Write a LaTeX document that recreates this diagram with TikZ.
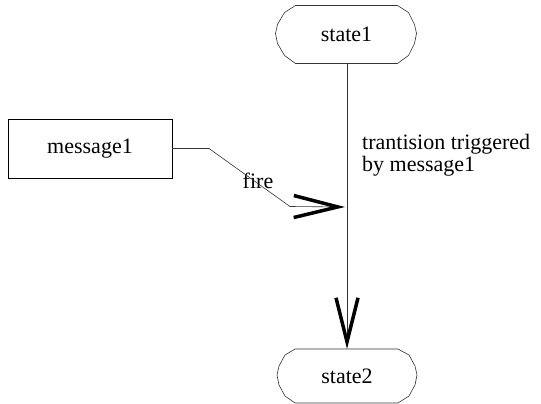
\documentclass[tikz,border=0pt]{standalone}
\usepackage{fontspec}
\newfontfamily\tmsfont{Liberation Serif}
\usepackage{tikz}
\usetikzlibrary{calc,arrows.meta}

\begin{document}
\begin{tikzpicture}[x=1pt,y=-1pt]
                      \tikzstyle{wire}=[draw=black!80,line width=0.6pt]
                      \tikzstyle{bigv}=[-{Straight Barb[length=44pt,width=22pt,line width=3.5pt,color=black]}]
                      \tikzstyle{txt}=[inner sep=0pt,font=\tmsfont\fontsize{22}{22}\selectfont]
                      \useasboundingbox (0,0) rectangle (541,404);
                      \node[txt] (s1) at (346.5,34.5) {state1};
                      \node[txt] (s2) at (347,376) {state2};
                      \node[txt,draw,inner sep=0pt,minimum width=164pt,minimum height=59pt] (m1) at (90,148.5) {message1};
                      \node[txt] (f) at (258,181) {fire};
                      \node[txt,anchor=north west,align=left] (l) at (362,134) {trantision triggered\\by message1};
                      % state outlines
                      \draw[wire] (s1.center) +(-51,-29) -- +(51,-29) -- +(62,-22) -- +(68,-10) -- +(70,-1) -- +(68,9) -- +(62,21) -- +(51,29) -- +(-51,29) -- +(-62,21) -- +(-69,9) -- +(-71,-1) -- +(-69,-10) -- +(-62,-22) -- cycle;
                      \draw[wire] (s2.center) +(-52,-27) -- +(51,-27) -- +(62,-21) -- +(68,-10) -- +(70,-1) -- +(68,9) -- +(62,20) -- +(51,27) -- +(-52,27) -- +(-62,20) -- +(-68,9) -- +(-70,-1) -- +(-68,-10) -- +(-62,-21) -- cycle;
                      \coordinate (top) at (347,63.5);
                      \coordinate (bot) at (347,349);
                      \coordinate (hit) at (345,207);
                      \draw[wire,bigv] (top) -- (bot);
                      \draw[wire,bigv] (m1.east) -- (209,148.5) -- (290,206.5) -- (hit);
                  \end{tikzpicture}
\end{document}
